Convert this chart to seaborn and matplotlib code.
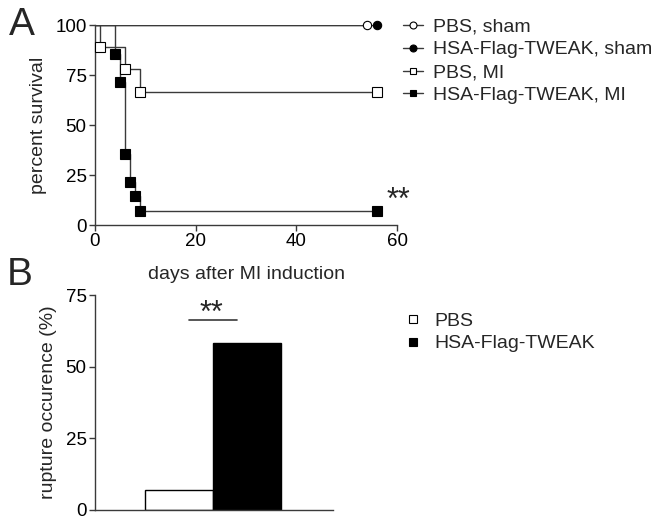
import numpy as np
import pandas as pd
import matplotlib
matplotlib.use('Agg')
import matplotlib.pyplot as plt
from matplotlib.lines import Line2D
import seaborn as sns

# ------------------------------------------------------------------ #
# Data
# ------------------------------------------------------------------ #
pbs_sham_days = [0, 54]
pbs_sham_surv = [100, 100]
tweak_sham_days = [0, 56]
tweak_sham_surv = [100, 100]
pbs_mi_days = [0, 1, 6, 9, 56]
pbs_mi_surv = [100, 88.9, 77.8, 66.7, 66.7]
tweak_mi_days = [0, 4, 5, 6, 7, 8, 9, 56]
tweak_mi_surv = [100, 85.7, 71.4, 35.7, 21.4, 14.3, 7.1, 7.1]

groups_a = ['PBS, sham', 'HSA-Flag-TWEAK, sham', 'PBS, MI', 'HSA-Flag-TWEAK, MI']
markers_a = ['o', 'o', 's', 's']
faces_a = ['white', 'black', 'white', 'black']

groups_b = ['PBS', 'HSA-Flag-TWEAK']
rupture = [7.1, 58.3]

LINE = '#3a3a3a'

sns.set_style('ticks')
plt.rcParams['font.family'] = ['Liberation Sans', 'DejaVu Sans']
plt.rcParams['font.size'] = 14
plt.rcParams['axes.edgecolor'] = LINE
plt.rcParams['axes.linewidth'] = 1.0
plt.rcParams['xtick.color'] = LINE
plt.rcParams['ytick.color'] = LINE
plt.rcParams['xtick.labelcolor'] = 'black'
plt.rcParams['ytick.labelcolor'] = 'black'

fig = plt.figure(figsize=(6.58, 5.25), dpi=100)
W, H = 658, 525

def px_axes(l, t, r, b):
    return fig.add_axes([l / W, 1 - b / H, (r - l) / W, (b - t) / H])

# ------------------------------------------------------------------ #
# Panel A: survival
# ------------------------------------------------------------------ #
ax1 = px_axes(95, 25, 397, 225)

curves = [
    (pbs_sham_days, pbs_sham_surv),
    (tweak_sham_days, tweak_sham_surv),
    (pbs_mi_days, pbs_mi_surv),
    (tweak_mi_days, tweak_mi_surv),
]
frames = []
for g, (d, s) in zip(groups_a, curves):
    frames.append(pd.DataFrame({'group': g, 'day': d, 'survival': s}))
df_a = pd.concat(frames, ignore_index=True)

for g, m, fc in zip(groups_a, markers_a, faces_a):
    sub = df_a[df_a['group'] == g]
    sns.lineplot(data=sub, x='day', y='survival', ax=ax1, color=LINE,
                 lw=1.0, drawstyle='steps-post', estimator=None, sort=False,
                 legend=False, zorder=2)
    pts = sub[sub['day'] > 0]
    ax1.plot(pts['day'], pts['survival'], ls='none', marker=m,
             markersize=6.5 if m == 's' else 6, markerfacecolor=fc,
             markeredgecolor='black', markeredgewidth=0.8, zorder=3,
             clip_on=False)

ax1.set_xlim(0, 60)
ax1.set_ylim(0, 100)
ax1.set_xticks([0, 20, 40, 60])
ax1.set_yticks([0, 25, 50, 75, 100])
ax1.tick_params(length=4, width=1, labelsize=13.5, pad=2)
ax1.set_xlabel('days after MI induction', fontsize=14, labelpad=11)
ax1.set_ylabel('percent survival', fontsize=14, labelpad=6)
sns.despine(ax=ax1)
ax1.text(58.0, 8.0, '**', fontsize=22, ha='left', va='baseline')

handles_a = [Line2D([0], [0], color=LINE, lw=1.0, marker=m, markersize=5,
                    markerfacecolor=fc, markeredgecolor='black',
                    markeredgewidth=0.8)
             for m, fc in zip(markers_a, faces_a)]
fig.legend(handles_a, groups_a, loc='upper left',
           bbox_to_anchor=(403 / W, 1 - 18 / H), frameon=False,
           fontsize=14, handlelength=1.05, handletextpad=0.5,
           labelspacing=0.27, borderpad=0, borderaxespad=0)

fig.text(9 / W, 1 - 35 / H, 'A', fontsize=28, ha='left', va='baseline')

# ------------------------------------------------------------------ #
# Panel B: rupture occurrence
# ------------------------------------------------------------------ #
ax2 = px_axes(95, 295, 333, 510)
df_b = pd.DataFrame({'group': groups_b, 'rupture': rupture})
sns.barplot(data=df_b, x='group', y='rupture', hue='group',
            palette=['white', 'black'], width=1.0, edgecolor='black',
            linewidth=1.0, legend=False, ax=ax2)
ax2.set_xlim(-1.246, 2.276)
ax2.set_ylim(0, 75)
ax2.set_yticks([0, 25, 50, 75])
ax2.set_xticks([])
ax2.set_xlabel('')
ax2.tick_params(axis='y', length=4, width=1, labelsize=13.5, pad=2)
ax2.set_ylabel('rupture occurence (%)', fontsize=14, labelpad=6)
sns.despine(ax=ax2)

ax2.plot([0.14, 0.86], [66.3, 66.3], color=LINE, lw=1.2)
ax2.text(0.48, 65.6, '**', fontsize=22, ha='center', va='baseline')

handles_b = [Line2D([0], [0], ls='none', marker='s', markersize=6,
                    markerfacecolor=c, markeredgecolor='black',
                    markeredgewidth=0.8) for c in ['white', 'black']]
fig.legend(handles_b, groups_b, loc='upper left',
           bbox_to_anchor=(406 / W, 1 - 312 / H), frameon=False,
           fontsize=14, handlelength=0.7, handletextpad=0.75,
           labelspacing=0.27, borderpad=0, borderaxespad=0)

fig.text(7 / W, 1 - 285 / H, 'B', fontsize=28, ha='left', va='baseline')

fig.savefig('out.png', dpi=100)
